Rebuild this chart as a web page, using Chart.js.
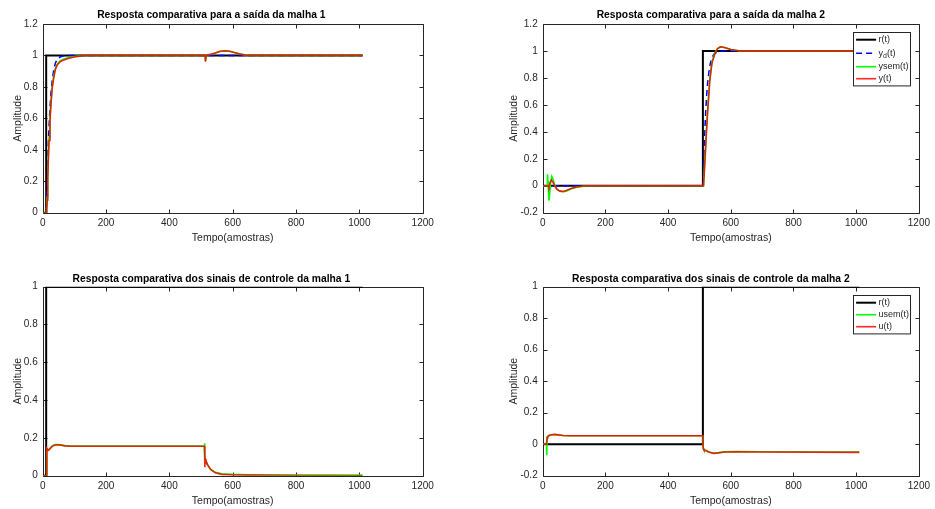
<!DOCTYPE html>
<html>
<head>
<meta charset="utf-8">
<script src="https://cdn.jsdelivr.net/npm/chart.js@4/dist/chart.umd.min.js"></script>
<style>
  html, body { margin: 0; padding: 0; background: #fff; }
  body { position: relative; width: 935px; height: 509px; overflow: hidden; }
  canvas { position: absolute; }
  #c1 { left: 0; top: 0; }
  #c2 { left: 500px; top: 0; }
  #c3 { left: 0; top: 255px; }
  #c4 { left: 500px; top: 255px; }
</style>
</head>
<body>
<canvas id="c1" width="467" height="254"></canvas>
<canvas id="c2" width="435" height="254"></canvas>
<canvas id="c3" width="467" height="254"></canvas>
<canvas id="c4" width="435" height="254"></canvas>
<script>
// saída da malha 1
const tR1 = [1, 11, 11, 1010];
const r1 = [0, 0, 1, 1];
const tYd1 = [1, 12, 14, 16, 18, 20, 23, 26, 30, 35, 40, 46, 55, 65, 80, 1010];
const yd1 = [0, 0, 0.18, 0.33, 0.45, 0.55, 0.67, 0.76, 0.84, 0.91, 0.95, 0.975, 0.99, 0.997, 1, 1];
const tYsem1 = [1, 12, 14, 16, 18, 20, 23, 26, 30, 35, 40, 46, 55, 65, 80, 100, 130, 513, 514, 516, 520, 530, 545, 560, 575, 590, 605, 620, 640, 660, 1010];
const ysem1 = [0, 0, 0.1, 0.24, 0.37, 0.48, 0.6, 0.7, 0.8, 0.87, 0.915, 0.945, 0.965, 0.975, 0.985, 0.993, 1, 1, 0.965, 0.998, 1.004, 1.006, 1.015, 1.025, 1.029, 1.026, 1.018, 1.01, 1.003, 1, 1];
const tY1 = [1, 12, 14, 16, 18, 20, 23, 26, 30, 35, 40, 46, 55, 65, 80, 100, 130, 513, 514, 516, 520, 530, 545, 560, 575, 590, 605, 620, 640, 660, 1010];
const y1 = [0, 0, 0.08, 0.22, 0.35, 0.46, 0.58, 0.69, 0.79, 0.86, 0.91, 0.94, 0.96, 0.97, 0.98, 0.99, 1, 1, 0.96, 0.996, 1.004, 1.007, 1.016, 1.026, 1.03, 1.027, 1.018, 1.01, 1.003, 1, 1];

// saída da malha 2
const tR2 = [1, 511, 511, 1010];
const r2 = [0, 0, 1, 1];
const tYd2 = [1, 512, 514, 516, 518, 520, 523, 526, 530, 535, 540, 546, 555, 565, 580, 1010];
const yd2 = [0, 0, 0.18, 0.33, 0.45, 0.55, 0.67, 0.76, 0.84, 0.91, 0.95, 0.975, 0.99, 0.997, 1, 1];
const tYsem2 = [1, 14, 15, 17, 20, 21, 25, 29, 33, 38, 45, 55, 65, 75, 90, 110, 140, 513, 518, 522, 526, 533, 540, 550, 558, 567, 580, 600, 630, 1010];
const ysem2 = [0, 0, 0.085, 0.03, -0.11, -0.095, 0.02, 0.07, 0.05, 0.005, -0.025, -0.04, -0.045, -0.04, -0.025, -0.01, 0, 0, 0.22, 0.4, 0.56, 0.79, 0.92, 0.99, 1.018, 1.03, 1.025, 1.01, 1, 1];
const tY2 = [1, 18, 20, 24, 28, 32, 38, 45, 55, 65, 75, 90, 110, 140, 513, 518, 522, 526, 533, 540, 550, 558, 567, 580, 600, 630, 1010];
const y2 = [0, 0, -0.01, 0.025, 0.042, 0.03, 0, -0.025, -0.04, -0.042, -0.035, -0.02, -0.007, 0, 0, 0.2, 0.38, 0.54, 0.78, 0.91, 0.985, 1.018, 1.031, 1.026, 1.01, 1, 1];

// controle da malha 1
const tR3 = [1, 11, 11, 1010];
const r3 = [0, 0, 1, 1];
const tUsem3 = [1, 12, 13, 15, 18, 21, 25, 30, 38, 45, 55, 70, 90, 130, 510, 511, 512, 514, 520, 530, 545, 565, 600, 650, 800, 1010];
const usem3 = [0, 0, 0.145, 0.142, 0.137, 0.14, 0.148, 0.157, 0.163, 0.165, 0.163, 0.159, 0.157, 0.157, 0.157, 0.172, 0.11, 0.085, 0.06, 0.035, 0.018, 0.01, 0.007, 0.005, 0.004, 0.003];
const tU3 = [1, 12, 13, 15, 18, 21, 25, 30, 38, 45, 55, 70, 90, 130, 511, 512, 513, 515, 520, 530, 545, 565, 600, 650, 800, 1010];
const u3 = [0, 0, 0.145, 0.14, 0.134, 0.138, 0.146, 0.155, 0.162, 0.164, 0.162, 0.158, 0.156, 0.156, 0.156, 0.045, 0.09, 0.08, 0.06, 0.033, 0.015, 0.007, 0.004, 0.003, 0.001, 0];

// controle da malha 2
const tR4 = [1, 511, 511, 1010];
const r4 = [0, 0, 1, 1];
const tUsem4 = [1, 12, 13, 14, 16, 20, 28, 38, 50, 65, 85, 120, 511, 512, 514, 520, 530, 545, 560, 580, 620, 700, 1010];
const usem4 = [0, 0, -0.07, 0.045, 0.05, 0.055, 0.06, 0.061, 0.058, 0.055, 0.054, 0.054, 0.054, -0.025, -0.035, -0.04, -0.05, -0.057, -0.054, -0.049, -0.047, -0.048, -0.05];
const tU4 = [1, 12, 14, 16, 20, 28, 38, 50, 65, 85, 120, 511, 512, 514, 520, 530, 545, 560, 580, 620, 700, 1010];
const u4 = [0, 0, 0.04, 0.048, 0.055, 0.06, 0.062, 0.059, 0.055, 0.054, 0.054, 0.054, -0.028, -0.035, -0.04, -0.05, -0.058, -0.055, -0.05, -0.049, -0.05, -0.052];

const xTicks = [0, 200, 400, 600, 800, 1000, 1200];

const FONT = '"Liberation Sans", Arial, Helvetica, sans-serif';
const AXIS = '#262626';
Chart.defaults.font.family = FONT;

// box round the axes with inward tick marks on all four sides
const frame = {
  id: 'frame',
  beforeDatasetsDraw(chart) {
    const {ctx, chartArea: a, scales: {x, y}} = chart;
    const L = Math.round(a.left) + 0.5, R = Math.round(a.right) + 0.5;
    const T = Math.round(a.top) + 0.5, B = Math.round(a.bottom) + 0.5;
    const len = 4;
    ctx.save();
    ctx.strokeStyle = AXIS;
    ctx.lineWidth = 1;
    ctx.beginPath();
    ctx.rect(L, T, R - L, B - T);
    x.ticks.forEach(t => {
      const px = Math.round(x.getPixelForValue(t.value)) + 0.5;
      ctx.moveTo(px, B); ctx.lineTo(px, B - len);
      ctx.moveTo(px, T); ctx.lineTo(px, T + len);
    });
    y.ticks.forEach(t => {
      const py = Math.round(y.getPixelForValue(t.value)) + 0.5;
      ctx.moveTo(L, py); ctx.lineTo(L + len, py);
      ctx.moveTo(R, py); ctx.lineTo(R - len, py);
    });
    ctx.stroke();
    ctx.restore();
  }
};

// legend box in the upper right corner, "_x" in a label is drawn as subscript
const boxLegend = {
  id: 'boxLegend',
  afterDatasetsDraw(chart, args, opts) {
    if (!opts.display) return;
    const {ctx, chartArea: a} = chart;
    const sets = chart.data.datasets;
    const rows = sets.map(d => d.label.includes('_') ? 15 : 12);
    const w = 57, h = rows.reduce((s, r) => s + r, 0) + 2.4;
    const x0 = Math.round(a.right - 9 - w) + 0.5, y0 = Math.round(a.top + 8.5) + 0.5;
    ctx.save();
    ctx.fillStyle = '#fff';
    ctx.fillRect(x0, y0, w, h);
    ctx.strokeStyle = AXIS;
    ctx.lineWidth = 1;
    ctx.strokeRect(x0, y0, w, h);
    let top = y0 + 1.2;
    sets.forEach((d, i) => {
      const cy = top + rows[i] / 2;
      ctx.strokeStyle = d.borderColor;
      ctx.lineWidth = d.borderWidth;
      ctx.setLineDash(d.borderDash || []);
      ctx.beginPath();
      ctx.moveTo(x0 + 2.6, cy);
      ctx.lineTo(x0 + 22.6, cy);
      ctx.stroke();
      ctx.setLineDash([]);
      ctx.fillStyle = AXIS;
      ctx.textBaseline = 'middle';
      let tx = x0 + 25;
      const [main, rest] = d.label.split('_');
      ctx.font = `9px ${FONT}`;
      ctx.fillText(main, tx, cy);
      tx += ctx.measureText(main).width;
      if (rest !== undefined) {
        ctx.font = `7px ${FONT}`;
        ctx.fillText(rest[0], tx, cy + 3);
        tx += ctx.measureText(rest[0]).width;
        ctx.font = `9px ${FONT}`;
        ctx.fillText(rest.slice(1), tx, cy);
      }
      top += rows[i];
    });
    ctx.restore();
  }
};

const pts = (t, v) => t.map((x, i) => ({x, y: v[i]}));

const line = (label, t, v, color, width, order, dash) => ({
  label,
  data: pts(t, v),
  borderColor: color,
  borderWidth: width,
  borderDash: dash,
  order,
  pointRadius: 0,
  tension: 0,
  fill: false,
});

// Helper function to create one subplot
const createChart = (id, title, yMin, yMax, datasets, layout) => {
  new Chart(document.getElementById(id), {
    type: 'line',
    data: {datasets},
    options: {
      responsive: false,
      animation: false,
      events: [],
      layout: {padding: {left: 0, right: layout.right, top: 0, bottom: 0}},
      plugins: {
        legend: {display: false},
        tooltip: {enabled: false},
        title: {
          display: true,
          text: title,
          color: '#000',
          font: {size: 10.3, weight: 'bold', family: FONT},
          padding: layout.titlePad,
        },
        boxLegend: {display: !!layout.legend},
      },
      scales: {
        x: {
          type: 'linear',
          min: 0,
          max: 1200,
          afterBuildTicks: s => { s.ticks = xTicks.map(value => ({value})); },
          afterFit: s => { s.height = layout.xHeight; },
          grid: {display: false, drawTicks: false},
          border: {display: false},
          ticks: {color: AXIS, font: {size: 10}, padding: 5, maxRotation: 0, callback: v => String(v)},
          title: {display: true, text: 'Tempo(amostras)', color: AXIS, font: {size: 10.5}, padding: {top: 0, bottom: layout.xTitlePad}},
        },
        y: {
          min: yMin,
          max: yMax,
          afterFit: s => { s.width = 42.7; },
          grid: {display: false, drawTicks: false},
          border: {display: false},
          ticks: {color: AXIS, font: {size: 10}, padding: 5, stepSize: 0.2, callback: v => String(Number(v.toFixed(1)))},
          title: {display: true, text: 'Amplitude', color: AXIS, font: {size: 10.5}, padding: {top: layout.yTitlePad, bottom: 0}},
        },
      },
    },
    plugins: [frame, boxLegend],
  });
};

const BLACK = '#000';
const BLUE = '#0000ff';
const GREEN = '#00ff00';
const RED = 'rgba(255,0,0,0.85)';

const topLeft = {right: 44.3, titlePad: {top: 8.8, bottom: 2.8}, xHeight: 41.3, xTitlePad: 9.7, yTitlePad: 11.4};
const topRight = {...topLeft, right: 13.3, yTitlePad: 8, legend: true};
const botLeft = {right: 44.3, titlePad: {top: 17.8, bottom: 1.5}, xHeight: 33.3, xTitlePad: 1.7, yTitlePad: 11.4};
const botRight = {...botLeft, right: 13.3, yTitlePad: 8, legend: true};

createChart('c1', 'Resposta comparativa para a saída da malha 1', 0, 1.2, [
  line('r(t)', tR1, r1, BLACK, 2, 4),
  line('y_d(t)', tYd1, yd1, BLUE, 1.5, 3, [6, 4]),
  line('ysem(t)', tYsem1, ysem1, GREEN, 1.6, 2),
  line('y(t)', tY1, y1, RED, 1.6, 1),
], topLeft);

createChart('c2', 'Resposta comparativa para a saída da malha 2', -0.2, 1.2, [
  line('r(t)', tR2, r2, BLACK, 2, 4),
  line('y_d(t)', tYd2, yd2, BLUE, 1.5, 3, [6, 4]),
  line('ysem(t)', tYsem2, ysem2, GREEN, 1.6, 2),
  line('y(t)', tY2, y2, RED, 1.6, 1),
], topRight);

createChart('c3', 'Resposta comparativa dos sinais de controle da malha 1', 0, 1, [
  line('r(t)', tR3, r3, BLACK, 2, 3),
  line('usem(t)', tUsem3, usem3, GREEN, 1.6, 2),
  line('u(t)', tU3, u3, RED, 1.6, 1),
], botLeft);

createChart('c4', 'Resposta comparativa dos sinais de controle da malha 2', -0.2, 1, [
  line('r(t)', tR4, r4, BLACK, 2, 3),
  line('usem(t)', tUsem4, usem4, GREEN, 1.6, 2),
  line('u(t)', tU4, u4, RED, 1.6, 1),
], botRight);
</script>
</body>
</html>
